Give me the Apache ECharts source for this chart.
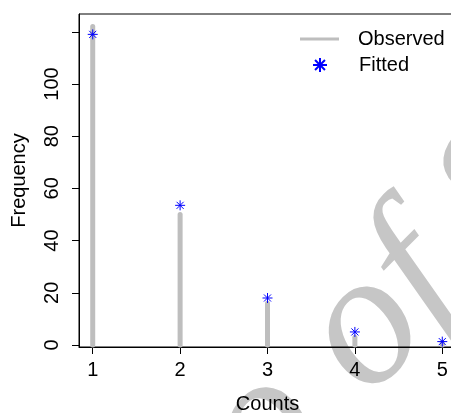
<!DOCTYPE html>
<html>
<head>
<meta charset="utf-8">
<script src="https://cdn.jsdelivr.net/npm/echarts@6/dist/echarts.min.js"></script>
<style>
  html, body { margin: 0; padding: 0; background: #fff; }
  #chart { width: 451px; height: 413px; }
</style>
</head>
<body>
<div id="chart"></div>
<script>
// data
const counts = [1, 2, 3, 4, 5]
const observed = [122, 50, 16, 3, 1]
const fitted = [119, 53.5, 18, 5, 1.3]
const yTicks = [0, 20, 40, 60, 80, 100, 120]
const yLabels = [0, 20, 40, 60, 80, 100]

const font = '"Liberation Sans", Arial, Helvetica, sans-serif'
// R pch = 8 style asterisk
const star = 'path://M0,-5L0,5M-5,0L5,0M-3.54,-3.54L3.54,3.54M-3.54,3.54L3.54,-3.54'

const chart = echarts.init(document.getElementById('chart'))

chart.setOption({
  animation: false,
  textStyle: { fontFamily: font },
  // watermark behind the plot
  graphic: [{
    type: 'text',
    x: 231,
    y: 465,
    rotation: 45 * Math.PI / 180,
    silent: true,
    z: -10,
    style: {
      text: 'o of S',
      fontFamily: '"Liberation Serif", "DejaVu Serif", serif',
      fontStyle: 'italic',
      fontSize: 190,
      fill: '#c6c6c6',
      align: 'left',
      verticalAlign: 'middle'
    }
  }],
  grid: {
    left: 79, top: 14, width: 377, bottom: 66,
    outerBoundsMode: 'none',
    show: true, borderColor: '#000', borderWidth: 1,
    backgroundColor: 'transparent'
  },
  legend: [{
    left: 300, top: 29, padding: 0,
    itemWidth: 39, itemHeight: 3, icon: 'rect',
    data: ['Observed'],
    textStyle: { fontSize: 20, color: '#000', fontFamily: font, padding: [0, 0, 0, 14] }
  }, {
    left: 312, top: 55, padding: 0,
    itemWidth: 14, itemHeight: 14, icon: star,
    itemStyle: { color: '#0000ff', borderColor: '#0000ff', borderWidth: 2 },
    data: ['Fitted'],
    textStyle: { fontSize: 20, color: '#000', fontFamily: font, padding: [0, 0, 0, 27] }
  }],
  xAxis: {
    type: 'value',
    min: 0.843, max: 5.157,
    name: 'Counts', nameLocation: 'middle', nameGap: 47,
    nameTextStyle: { fontSize: 20, color: '#000', fontFamily: font },
    splitLine: { show: false },
    axisLine: { onZero: false, lineStyle: { color: '#000', width: 1 } },
    axisTick: { customValues: counts, length: 7, lineStyle: { color: '#000' } },
    axisLabel: { customValues: counts, fontSize: 20, color: '#000', margin: 13 }
  },
  yAxis: {
    type: 'value',
    min: -0.77, max: 126.8,
    name: 'Frequency', nameLocation: 'middle', nameGap: 50,
    nameTextStyle: { fontSize: 20, color: '#000', fontFamily: font },
    splitLine: { show: false },
    axisLine: { onZero: false, lineStyle: { color: '#000', width: 1 } },
    axisTick: { customValues: yTicks, length: 7, lineStyle: { color: '#000' } },
    axisLabel: { customValues: yLabels, fontSize: 20, color: '#000', rotate: 90, margin: 17 }
  },
  series: [{
    name: 'Observed',
    type: 'custom',
    itemStyle: { color: '#bebebe' },
    data: counts.map((c, i) => [c, observed[i]]),
    renderItem: (params, api) => {
      const p0 = api.coord([api.value(0), 0])
      const p1 = api.coord([api.value(0), api.value(1)])
      return {
        type: 'line',
        shape: { x1: p0[0], y1: p0[1], x2: p1[0], y2: p1[1] },
        style: { stroke: '#bebebe', lineWidth: 5, lineCap: 'round' }
      }
    }
  }, {
    name: 'Fitted',
    type: 'scatter',
    symbol: star,
    symbolSize: 10,
    itemStyle: { color: '#0000ff', borderColor: '#0000ff', borderWidth: 1, opacity: 1 },
    data: counts.map((c, i) => [c, fitted[i]]),
    z: 5
  }]
})
</script>
</body>
</html>
